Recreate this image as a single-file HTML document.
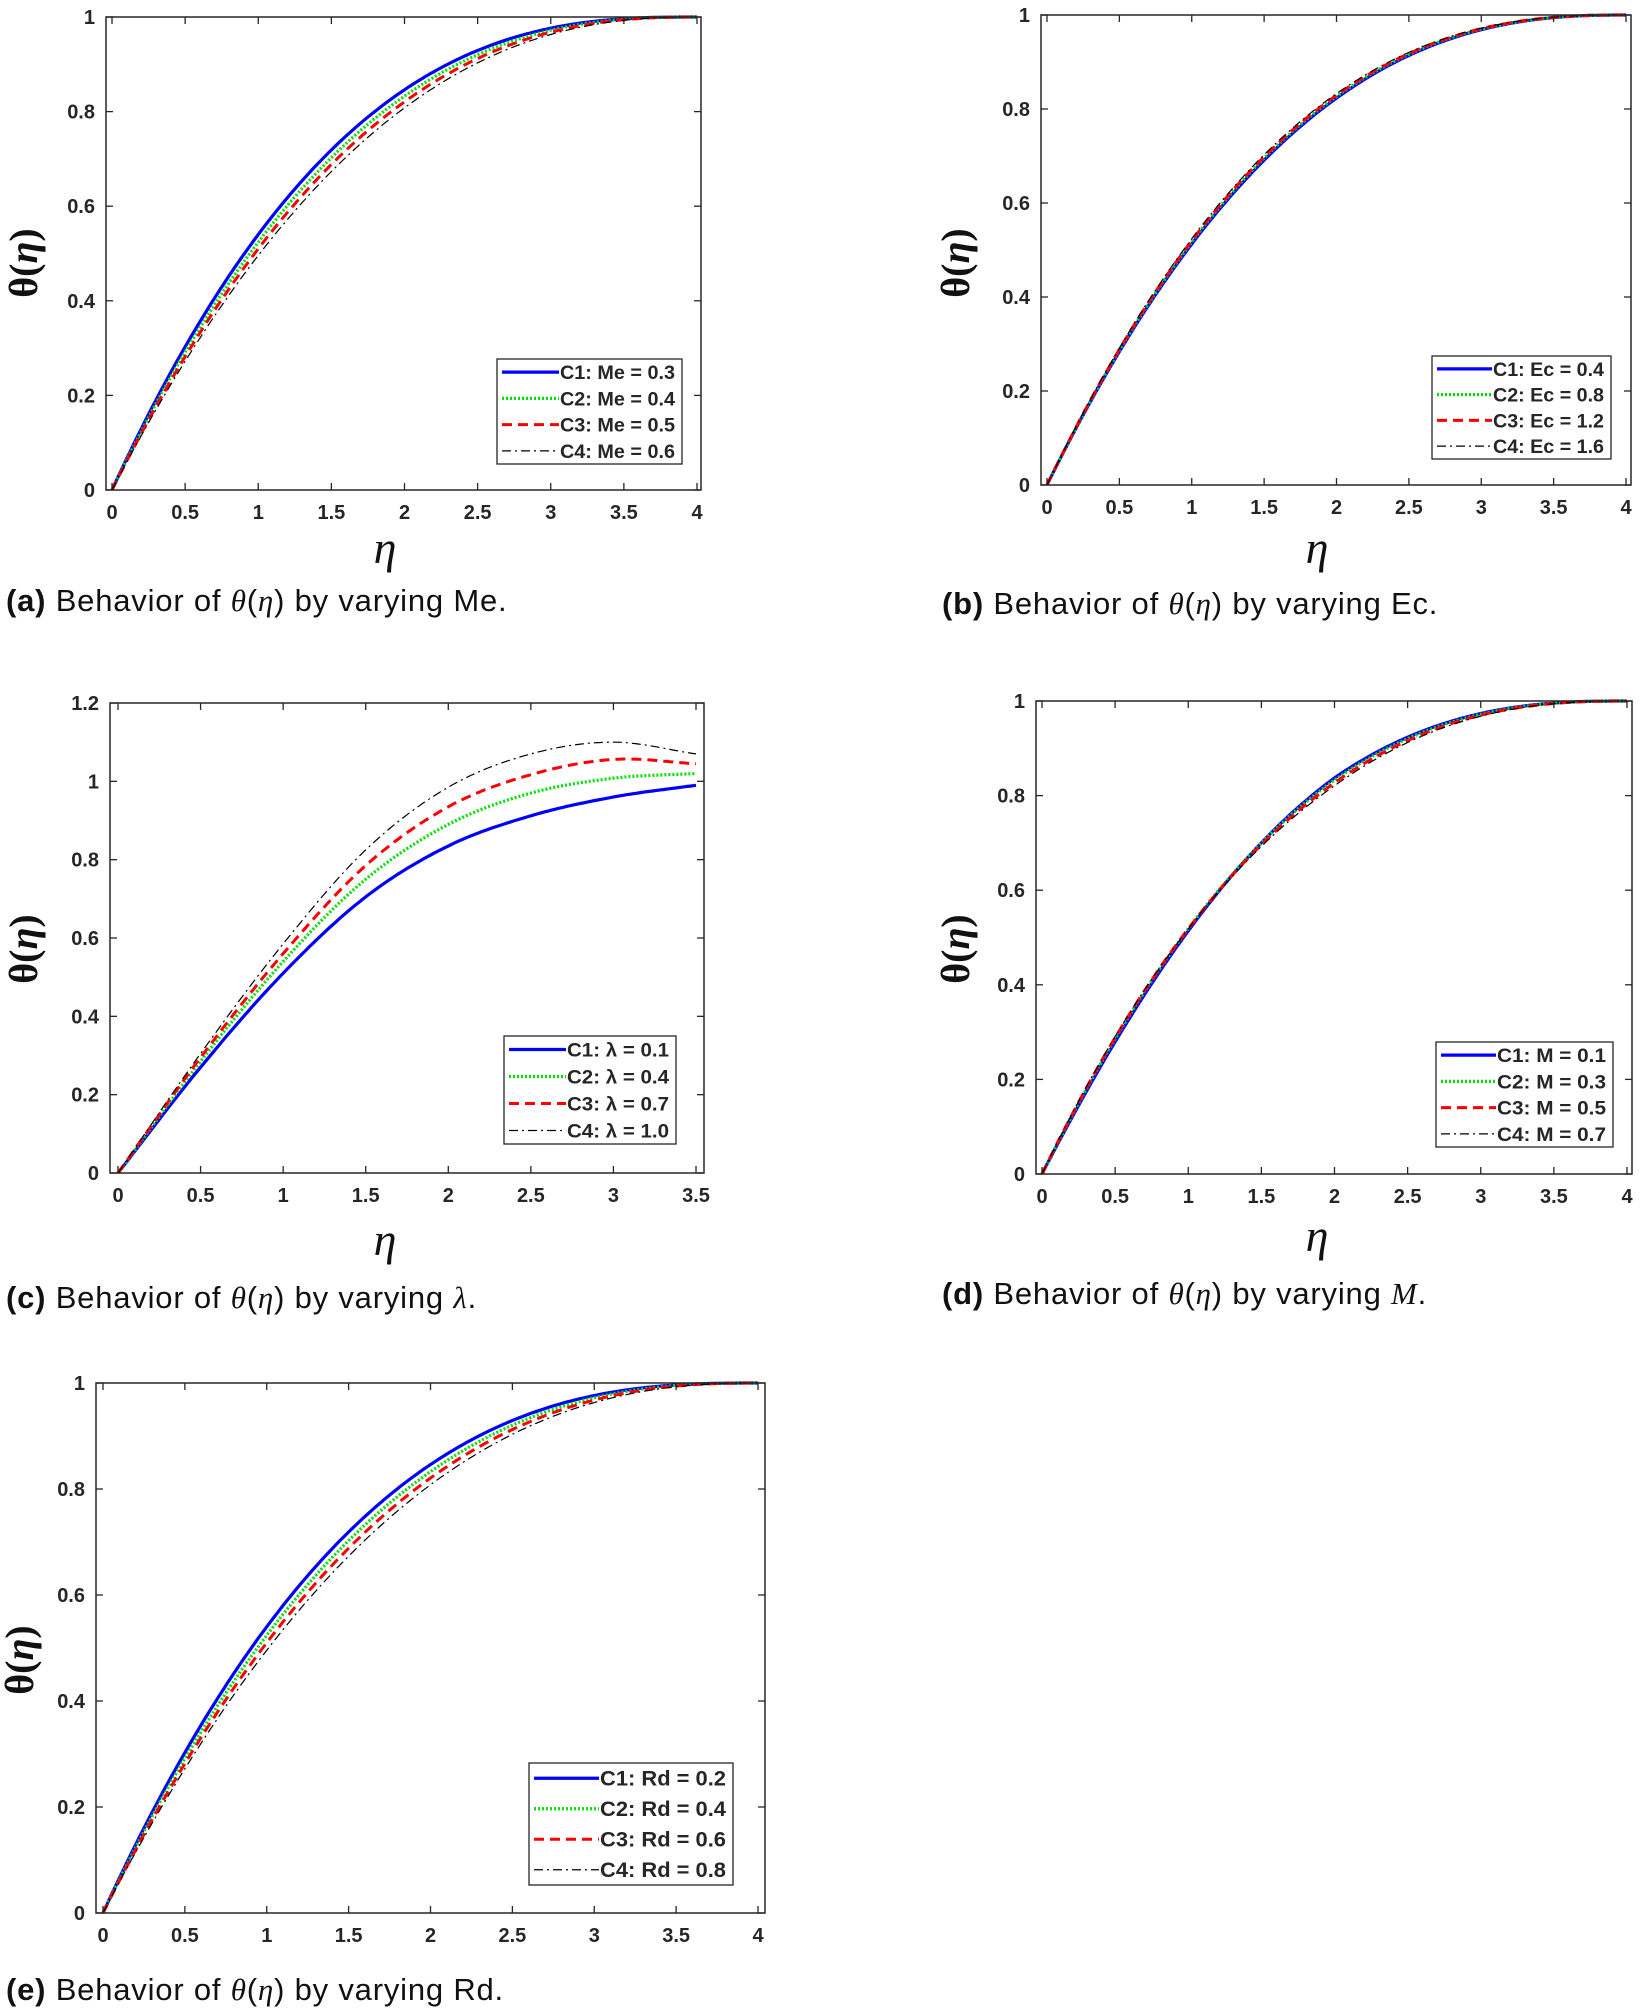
<!DOCTYPE html>
<html><head><meta charset="utf-8">
<style>
html,body{margin:0;padding:0;background:#fff;}
body{width:1641px;height:2006px;position:relative;overflow:hidden;}
svg{position:absolute;left:0;top:0;}
.cap{position:absolute;font-family:"Liberation Sans",sans-serif;font-size:31px;color:#111;white-space:nowrap;letter-spacing:0.8px;}
.cap i{font-family:"Liberation Serif",serif;}
</style></head><body>
<svg id="s" width="1641" height="2006" xmlns="http://www.w3.org/2000/svg"></svg>
<div class="cap" style="left:6px;top:583px"><b>(a)</b> Behavior of <i>θ</i>(<i>η</i>) by varying Me.</div>
<div class="cap" style="left:942px;top:586px"><b>(b)</b> Behavior of <i>θ</i>(<i>η</i>) by varying Ec.</div>
<div class="cap" style="left:6px;top:1280px"><b>(c)</b> Behavior of <i>θ</i>(<i>η</i>) by varying <i>λ</i>.</div>
<div class="cap" style="left:942px;top:1276px"><b>(d)</b> Behavior of <i>θ</i>(<i>η</i>) by varying <i>M</i>.</div>
<div class="cap" style="left:6px;top:1972px"><b>(e)</b> Behavior of <i>θ</i>(<i>η</i>) by varying Rd.</div>
<script>
var S=document.getElementById('s'),out='';
var styles=[
 {c:'#0000ff',w:3.2,d:''},
 {c:'#00e000',w:3.2,d:'2 2'},
 {c:'#ff0000',w:3,d:'10 6'},
 {c:'#000',w:1.2,d:'9 4 2 4'}];
function panel(p){
 var L=p.L,R=p.R,T=p.T,B=p.B;
 var X=function(v){return p.x0+(p.x1-p.x0)*(v-p.xa)/(p.xb-p.xa);};
 var Y=function(v){return B-(B-T)*(v-p.ya)/(p.yb-p.ya);};
 p.curves.forEach(function(f,i){
  var st=styles[i],d='';
  for(var k=0;k<=200;k++){var e=p.xa+(p.xb-p.xa)*k/200;d+=(k?'L':'M')+X(e).toFixed(1)+' '+Y(f(e)).toFixed(1);}
  out+='<path d="'+d+'" fill="none" stroke="'+st.c+'" stroke-width="'+st.w+'"'+(st.d?' stroke-dasharray="'+st.d+'"':'')+'/>';
 });
 out+='<rect x="'+L+'" y="'+T+'" width="'+(R-L)+'" height="'+(B-T)+'" fill="none" stroke="#262626" stroke-width="1.5"/>';
 p.xt.forEach(function(t){var x=X(t);
  out+='<line x1="'+x+'" y1="'+B+'" x2="'+x+'" y2="'+(B-7)+'" stroke="#262626" stroke-width="1.3"/><line x1="'+x+'" y1="'+T+'" x2="'+x+'" y2="'+(T+7)+'" stroke="#262626" stroke-width="1.3"/>';
  out+='<text x="'+x+'" y="'+(B+29)+'" text-anchor="middle" font-family="Liberation Sans" font-weight="bold" font-size="20" fill="#262626">'+t+'</text>';});
 p.yt.forEach(function(t){var y=Y(t);
  out+='<line x1="'+L+'" y1="'+y+'" x2="'+(L+7)+'" y2="'+y+'" stroke="#262626" stroke-width="1.3"/><line x1="'+R+'" y1="'+y+'" x2="'+(R-7)+'" y2="'+y+'" stroke="#262626" stroke-width="1.3"/>';
  out+='<text x="'+(L-11)+'" y="'+(y+7)+'" text-anchor="end" font-family="Liberation Sans" font-weight="bold" font-size="20" fill="#262626">'+t+'</text>';});
 out+='<text transform="translate('+(p.yl[0]+14)+','+p.yl[1]+') rotate(-90)" text-anchor="middle" font-family="Liberation Serif" font-weight="bold" font-size="40" fill="#111">θ(<tspan font-style="italic">η</tspan>)</text>';
 if(p.xl) out+='<text x="'+p.xl[0]+'" y="'+(p.xl[1]+14)+'" text-anchor="middle" font-family="Liberation Serif" font-style="italic" font-size="46" fill="#111">η</text>';
 var g=p.lg; out+='<rect x="'+g[0]+'" y="'+g[1]+'" width="'+(g[2]-g[0])+'" height="'+(g[3]-g[1])+'" fill="#fff" stroke="#262626" stroke-width="1.3"/>';
 var h=(g[3]-g[1])/4;
 p.labels.forEach(function(t,i){var st=styles[i],y=g[1]+h*(i+0.5);
  out+='<line x1="'+(g[0]+5)+'" y1="'+y+'" x2="'+(g[0]+p.ll)+'" y2="'+y+'" stroke="'+st.c+'" stroke-width="'+st.w+'"'+(st.d?' stroke-dasharray="'+st.d+'"':'')+'/>';
  out+='<text x="'+(g[0]+p.ll+1)+'" y="'+(y+7)+'" font-family="Liberation Sans" font-weight="bold" font-size="'+p.fs+'" fill="#262626" textLength="'+(g[2]-g[0]-p.ll-8)+'" lengthAdjust="spacingAndGlyphs">'+t+'</text>';});
}
function pw(n){return function(e){var u=Math.max(0,1-e/4);return 1-Math.pow(u,n);};}
function spl(ys){var xs=[0,0.5,1,1.5,2,2.5,3,3.5];
 return function(e){var i=Math.min(6,Math.floor(e/0.5));var t=(e-xs[i])/0.5;
  var p0=ys[Math.max(0,i-1)],p1=ys[i],p2=ys[i+1],p3=ys[Math.min(7,i+2)];
  if(i==0)p0=2*p1-p2; if(i==6)p3=2*p2-p1;
  return 0.5*((2*p1)+(-p0+p2)*t+(2*p0-5*p1+4*p2-p3)*t*t+(-p0+3*p1-3*p2+p3)*t*t*t);};}
var yt1=[0,0.2,0.4,0.6,0.8,1],xt4=[0,0.5,1,1.5,2,2.5,3,3.5,4];
panel({L:106,R:701,T:17,B:490,x0:112,x1:697,xa:0,xb:4,ya:0,yb:1,xt:xt4,yt:yt1,yl:[23,263],xl:[385,549],
 lg:[497,359,682,464],ll:62,fs:19,curves:[pw(2.7),pw(2.58),pw(2.48),pw(2.38)],
 labels:['C1: Me = 0.3','C2: Me = 0.4','C3: Me = 0.5','C4: Me = 0.6']});
panel({L:1041,R:1631,T:15,B:485,x0:1047,x1:1626,xa:0,xb:4,ya:0,yb:1,xt:xt4,yt:yt1,yl:[955,263],xl:[1317,549],
 lg:[1432,356,1611,459],ll:60,fs:19,curves:[pw(2.5),pw(2.53),pw(2.55),pw(2.58)],
 labels:['C1: Ec = 0.4','C2: Ec = 0.8','C3: Ec = 1.2','C4: Ec = 1.6']});
panel({L:110,R:704,T:703,B:1173,x0:118,x1:696,xa:0,xb:3.5,ya:0,yb:1.2,xt:[0,0.5,1,1.5,2,2.5,3,3.5],yt:[0,0.2,0.4,0.6,0.8,1,1.2],yl:[23,949],xl:[385,1241],
 lg:[504,1036,676,1144],ll:62,fs:19,curves:[
  spl([0,0.27,0.51,0.705,0.835,0.912,0.96,0.99]),
  spl([0,0.285,0.54,0.75,0.89,0.97,1.008,1.02]),
  spl([0,0.295,0.56,0.785,0.935,1.017,1.056,1.045]),
  spl([0,0.305,0.585,0.825,0.985,1.07,1.10,1.07])],
 labels:['C1:  λ = 0.1','C2:  λ = 0.4','C3:  λ = 0.7','C4:  λ = 1.0']});
function mix(a,b){return function(e){var w=Math.min(1,e/2);return (1-w)*pw(a)(e)+w*pw(b)(e);};}
panel({L:1036,R:1632,T:701,B:1174,x0:1042,x1:1627,xa:0,xb:4,ya:0,yb:1,xt:xt4,yt:yt1,yl:[955,949],xl:[1317,1237],
 lg:[1436,1042,1613,1147],ll:60,fs:19,curves:[mix(2.4,2.62),mix(2.5,2.58),mix(2.55,2.53),mix(2.6,2.48)],
 labels:['C1: M = 0.1','C2: M = 0.3','C3: M = 0.5','C4: M = 0.7']});
panel({L:96,R:765,T:1383,B:1913,x0:103,x1:758,xa:0,xb:4,ya:0,yb:1,xt:xt4,yt:yt1,yl:[19,1660],xl:null,
 lg:[529,1763,733,1885],ll:70,fs:21,curves:[pw(2.7),pw(2.58),pw(2.48),pw(2.38)],
 labels:['C1: Rd = 0.2','C2: Rd = 0.4','C3: Rd = 0.6','C4: Rd = 0.8']});
S.innerHTML=out;
</script>
</body></html>
